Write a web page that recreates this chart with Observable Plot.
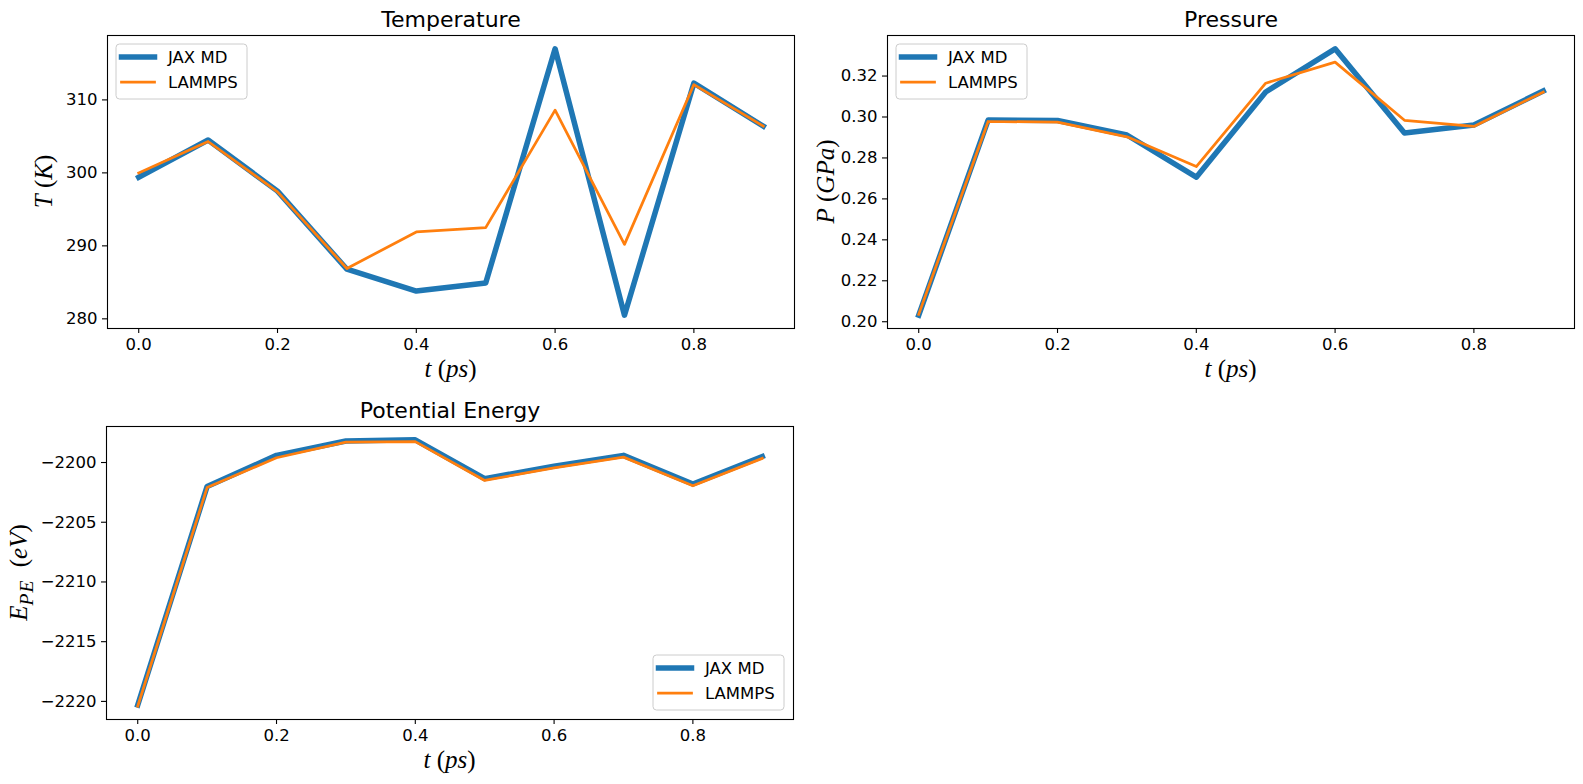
<!DOCTYPE html>
<html>
<head>
<meta charset="utf-8">
<script src="https://cdn.jsdelivr.net/npm/d3@7"></script>
<script src="https://cdn.jsdelivr.net/npm/@observablehq/plot@0.6"></script>
<style>
  body { margin: 0; background: #fff; }
  #fig { position: relative; width: 1583px; height: 784px; background: #fff; overflow: hidden; }
  #fig svg { position: absolute; overflow: visible; }
</style>
</head>
<body>
<div id="fig"></div>
<script>
// Simulation time (ps)
const times = [0.0, 0.1, 0.2, 0.3, 0.4, 0.5, 0.6, 0.7, 0.8, 0.9];
const seriesNames = ["JAX MD", "LAMMPS"];

// Temperature (K)
const temperatureJax    = [299.4, 304.5, 297.5, 286.8, 283.8, 284.9, 317.0, 280.5, 312.3, 306.4];
const temperatureLammps = [300.0, 304.3, 297.4, 286.9, 291.9, 292.5, 308.6, 290.2, 312.1, 306.4];

// Pressure (GPa)
const pressureJax    = [0.2032, 0.2985, 0.2983, 0.2912, 0.2706, 0.3122, 0.3333, 0.2922, 0.2961, 0.3127];
const pressureLammps = [0.2036, 0.2978, 0.2975, 0.2903, 0.2758, 0.3165, 0.3268, 0.2984, 0.2954, 0.3122];

// Potential energy (eV)
const energyJax    = [-2220.3, -2202.0, -2199.4, -2198.2, -2198.1, -2201.35, -2200.3, -2199.4, -2201.8, -2199.5];
const energyLammps = [-2220.4, -2202.1, -2199.6, -2198.3, -2198.25, -2201.5, -2200.45, -2199.55, -2201.95, -2199.65];

// Tick values
const timeTicks = [0.0, 0.2, 0.4, 0.6, 0.8];
const temperatureTicks = [280, 290, 300, 310];
const pressureTicks = [0.20, 0.22, 0.24, 0.26, 0.28, 0.30, 0.32];
const energyTicks = [-2220, -2215, -2210, -2205, -2200];

const colors = ["#1f77b4", "#ff7f0e"];
const widths = [5.5, 2.75];

const FRAME_W = 687, FRAME_H = 293;
const M = { left: 110, right: 12, top: 40, bottom: 70 };
const LABEL_SIZE = 25;

// extent with 5% padding on each side
function padded(values) {
  const [lo, hi] = d3.extent(values);
  const d = (hi - lo) * 0.05;
  return [lo - d, hi + d];
}

function mathLabel(sel, parts, size) {
  const text = sel.append("text")
    .attr("font-family", "'Liberation Serif', 'DejaVu Serif', serif")
    .attr("font-size", size)
    .attr("fill", "#000")
    .attr("text-anchor", "middle")
    .style("white-space", "pre");
  for (const p of parts) {
    const ts = text.append("tspan").text(p.t)
      .attr("font-style", p.i ? "italic" : "normal");
    if (p.sub) ts.attr("font-size", size * 0.78).attr("dy", size * 0.22).attr("letter-spacing", 1);
    if (p.up) ts.attr("dy", -size * 0.22);
  }
  return text;
}

function drawLegend(svg, x0, y0) {
  const g = d3.select(svg).append("g").attr("text-anchor", "start");
  g.append("rect")
    .attr("x", x0).attr("y", y0).attr("width", 131).attr("height", 55)
    .attr("rx", 3.5).attr("fill", "#fff").attr("fill-opacity", 0.8)
    .attr("stroke", "#cccccc").attr("stroke-width", 1);
  seriesNames.forEach((name, i) => {
    const cy = y0 + 13 + 25 * i;
    g.append("line")
      .attr("x1", x0 + 5.5).attr("x2", x0 + 38.5).attr("y1", cy).attr("y2", cy)
      .attr("stroke", colors[i]).attr("stroke-width", widths[i])
      .attr("stroke-linecap", "square");
    g.append("text")
      .attr("x", x0 + 52).attr("y", cy + 6)
      .attr("text-anchor", "start")
      .attr("font-family", "'DejaVu Sans', sans-serif").attr("font-size", 16.5)
      .attr("fill", "#000").text(name);
  });
}

function panel({ title, jax, lammps, yTicks, yFormat, left, top, legend, xlabel, ylabel, ylabelX }) {
  const toRows = (vals, s) => times.map((t, i) => ({ t, v: vals[i], s }));
  const svg = Plot.plot({
    width: FRAME_W + M.left + M.right,
    height: FRAME_H + M.top + M.bottom,
    marginLeft: M.left, marginRight: M.right, marginTop: M.top, marginBottom: M.bottom,
    style: { fontFamily: "'DejaVu Sans', sans-serif", fontSize: "16.5px", color: "#000", background: "transparent", overflow: "visible" },
    x: { domain: padded(times) },
    y: { domain: padded(jax.concat(lammps)) },
    marks: [
      Plot.line(toRows(jax, seriesNames[0]), { x: "t", y: "v", stroke: colors[0], strokeWidth: widths[0], strokeLinecap: "square", strokeLinejoin: "round" }),
      Plot.line(toRows(lammps, seriesNames[1]), { x: "t", y: "v", stroke: colors[1], strokeWidth: widths[1], strokeLinecap: "square", strokeLinejoin: "round" }),
      Plot.frame({ stroke: "#000", strokeWidth: 1.1 }),
      Plot.axisX({ ticks: timeTicks, tickFormat: d3.format(".1f"), tickSize: 5, tickPadding: 5, label: null, strokeWidth: 1.1 }),
      Plot.axisY({ ticks: yTicks, tickFormat: yFormat, tickSize: 5, tickPadding: 5, label: null, strokeWidth: 1.1 }),
      Plot.text([title], { text: d => d, frameAnchor: "top", lineAnchor: "bottom", dy: -8.25, fontSize: 22 })
    ]
  });
  svg.style.left = (left - M.left) + "px";
  svg.style.top = (top - M.top) + "px";

  const s = d3.select(svg);
  mathLabel(s, xlabel, LABEL_SIZE)
    .attr("x", M.left + FRAME_W / 2)
    .attr("y", M.top + FRAME_H + 48.5);
  mathLabel(s, ylabel, LABEL_SIZE)
    .attr("transform", `translate(${ylabelX - (left - M.left)},${M.top + FRAME_H / 2}) rotate(-90)`);

  if (legend === "upper left") drawLegend(svg, M.left + 9, M.top + 9);
  else drawLegend(svg, M.left + FRAME_W - 9 - 131, M.top + FRAME_H - 9 - 55);

  document.getElementById("fig").appendChild(svg);
}

const timeLabel = [{ t: "t", i: true }, { t: " (", i: false }, { t: "ps", i: true }, { t: ")", i: false }];

panel({
  title: "Temperature", jax: temperatureJax, lammps: temperatureLammps,
  yTicks: temperatureTicks, yFormat: d3.format("d"),
  left: 106.5, top: 35, legend: "upper left",
  xlabel: timeLabel,
  ylabel: [{ t: "T", i: true }, { t: " (", i: false }, { t: "K", i: true }, { t: ")", i: false }],
  ylabelX: 51
});

panel({
  title: "Pressure", jax: pressureJax, lammps: pressureLammps,
  yTicks: pressureTicks, yFormat: d3.format(".2f"),
  left: 887, top: 35, legend: "upper left",
  xlabel: timeLabel,
  ylabel: [{ t: "P", i: true }, { t: " (", i: false }, { t: "GPa", i: true }, { t: ")", i: false }],
  ylabelX: 834
});

panel({
  title: "Potential Energy", jax: energyJax, lammps: energyLammps,
  yTicks: energyTicks, yFormat: d3.format("d"),
  left: 106, top: 426.3, legend: "lower right",
  xlabel: timeLabel,
  ylabel: [{ t: "E", i: true }, { t: "PE", i: true, sub: true }, { t: "  (", i: false, up: true }, { t: "eV", i: true }, { t: ")", i: false }],
  ylabelX: 27
});
</script>
</body>
</html>
